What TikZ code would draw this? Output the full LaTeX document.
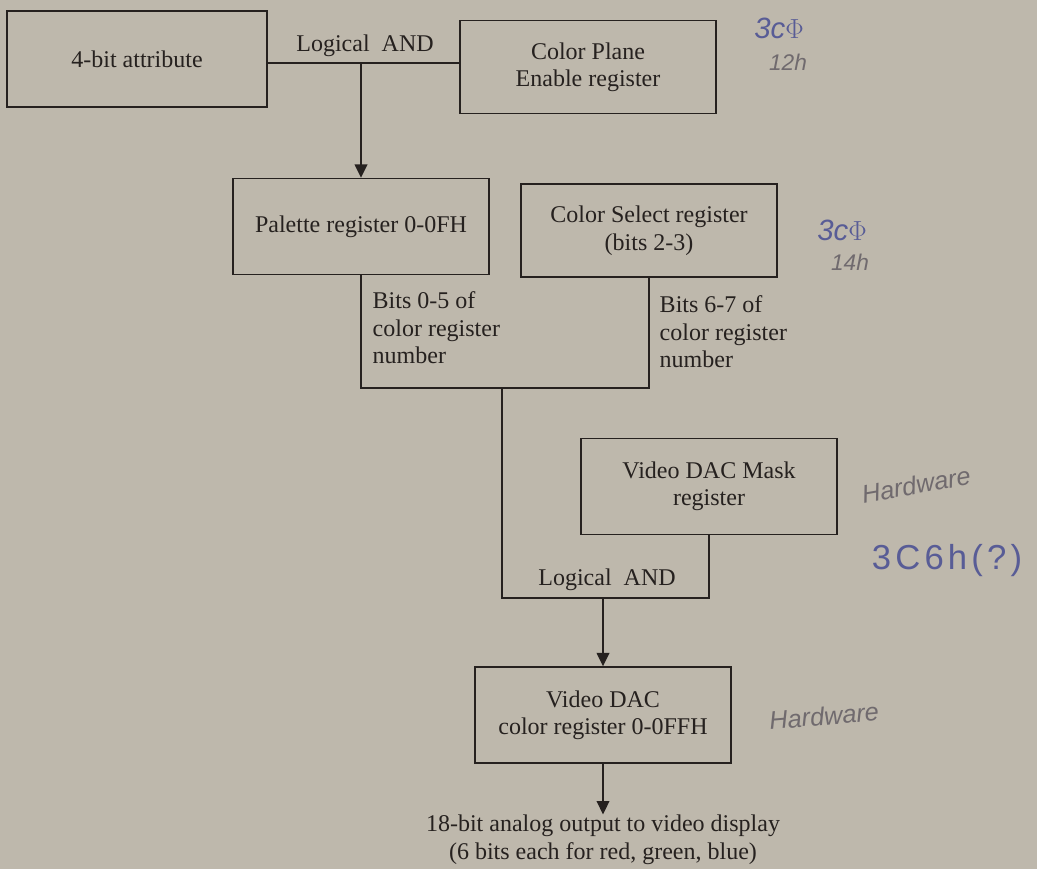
\documentclass[tikz,border=0pt]{standalone}
\usepackage{fontspec}
\setmainfont{Liberation Serif}
\newfontfamily\handfont{Liberation Sans}
\usepackage{tikz}
\usetikzlibrary{arrows.meta,positioning}

\definecolor{paper}{RGB}{190,184,172}
\definecolor{ink}{RGB}{38,33,31}
\definecolor{penblue}{RGB}{88,92,150}
\definecolor{pencil}{RGB}{112,106,110}

\begin{document}
\begin{tikzpicture}[x=0.75pt,y=-0.75pt,->,>={Triangle[length=10pt,width=9.5pt]},
                    line width=1.1pt,draw=ink,
                    reg/.style={draw=ink,rectangle,align=center,text=ink,
                                minimum width=192pt,minimum height=72pt,inner sep=2pt},
                    lbl/.style={text=ink,inner sep=0pt,align=left},
                    scrawl/.style={font=\handfont\itshape,inner sep=0pt}]

  \fill[paper] (0,0) rectangle (1037,869);
  \useasboundingbox (0,0) rectangle (1037,869);
  \fontsize{18}{20.6}\selectfont

  % registers
  \node[reg,minimum width=195pt](attr)    at (137,59)    {4-bit attribute};
  \node[reg,minimum height=70pt](plane)   at (588,67)    {Color Plane\\Enable register};
  \node[reg](palette)                     at (361,226.5) {Palette register 0-0FH};
  \node[reg,minimum height=70pt](select)  at (649,230.5) {Color Select register\\(bits 2-3)};
  \node[reg](mask)                        at (709,486.5) {Video DAC Mask\\register};
  \node[reg](dac)                         at (603,715)   {Video DAC\\color register 0-0FFH};
  \node[lbl,align=center](out) [below=38pt of dac] {18-bit analog output to video display\\(6 bits each for red, green, blue)};

  % junctions
  \coordinate (and1) at (361,63);
  \coordinate (merge) at (502,388);
  \coordinate (and2) at (502,598);
  \coordinate (and2m) at (603,598);

  % first AND
  \path[-] (attr.east |- and1) edge (plane.west |- and1);
  \node[lbl] (andtop) at (365,46) {Logical~~AND};
  \path (and1) edge (palette.north);

  % bits into color register number
  \draw[-] (palette.south) -- (palette.south |- merge) -- (select.south |- merge) -- (select.south);
  \node[lbl,anchor=west] (lowbits)  at (372,328) {Bits 0-5 of\\color register\\number};
  \node[lbl,anchor=west] (highbits) at (659,332) {Bits 6-7 of\\color register\\number};

  % second AND
  \draw[-] (merge) -- (and2) -- (mask.south |- and2) -- (mask.south);
  \node[lbl] (andlow) at (607,580) {Logical~~AND};
  \path (and2m) edge (dac.north);
  \path (dac.south) edge (out.north);

  % pencil notes
  \node[scrawl,text=penblue,font=\handfont\itshape\fontsize{22}{24}\selectfont] (pa) at (779,28) {3c$\Phi$};
  \node[scrawl,text=pencil,font=\handfont\itshape\fontsize{17}{20}\selectfont] (pb) at (788,62) {12h};
  \node[scrawl,text=penblue,font=\handfont\itshape\fontsize{22}{24}\selectfont] (pc) at (842,230) {3c$\Phi$};
  \node[scrawl,text=pencil,font=\handfont\itshape\fontsize{17}{20}\selectfont] (pd) at (850,262) {14h};
  \node[scrawl,text=pencil,rotate=10,font=\handfont\itshape\fontsize{19}{22}\selectfont] (pe) at (916,485) {Hardware};
  \node[scrawl,text=penblue,font=\handfont\fontsize{26}{28}\selectfont\addfontfeature{LetterSpace=12}] (pf) at (947,561) {3C6h(?)};
  \node[scrawl,text=pencil,rotate=5,font=\handfont\itshape\fontsize{19}{22}\selectfont] (pg) at (824,716) {Hardware};

\end{tikzpicture}
\end{document}
